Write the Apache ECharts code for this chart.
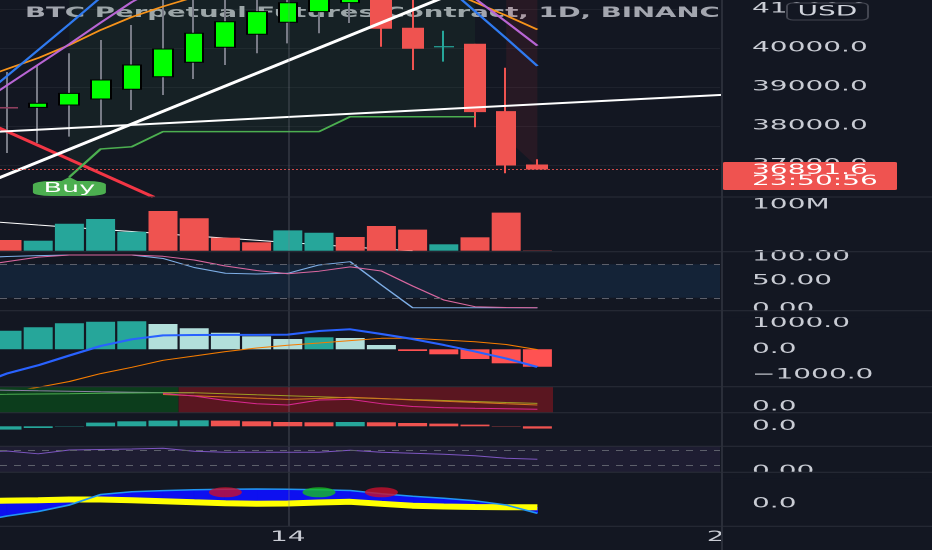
<!DOCTYPE html>
<html>
<head>
<meta charset="utf-8">
<title>BTC Perpetual Futures Contract, 1D, BINANCE</title>
<script src="https://cdn.jsdelivr.net/npm/echarts@6.0.0/dist/echarts.min.js"></script>
<style>
html, body { margin:0; padding:0; background:#131722; overflow:hidden; }
#wrap { width:932px; height:550px; overflow:hidden; background:#131722; }
#chart { width:466px; height:550px; transform:scaleX(2); transform-origin:0 0; }
</style>
</head>
<body>
<div id="wrap"><div id="chart"></div></div>
<script>
// ---------------- data ----------------
const TITLE = 'BTC Perpetual Futures Contract, 1D, BINANCE';
const CURRENCY = 'USD';
const COUNTDOWN = '23:50:56';

const days   = [5, 6, 7, 8, 9, 10, 11, 12, 13, 14, 15, 16, 17, 18, 19, 20, 21, 22];
const opens  = [38470, 38474, 38533, 38687, 38936, 39259, 39628, 40013, 40346, 40654, 40926, 41157, 41550, 40500, 40025, 40090, 38362, 36995];
const closes = [38455, 38577, 38833, 39174, 39559, 39969, 40372, 40669, 40926, 41156, 41450, 41600, 40500, 39987, 40030, 38362, 36995, 36891.6];
const lows   = [37303, 37559, 37721, 38021, 38405, 38790, 39200, 39559, 39859, 40115, 40372, 40636, 40028, 39431, 39644, 37962, 36782, 36891.6];
const highs  = [39379, 39559, 39859, 40200, 40585, 41400, 41500, 41600, 41700, 41800, 41900, 42000, 41900, 41300, 40438, 40100, 39490, 37141];
const priceTicks = [37000, 38000, 39000, 40000, 41000];
const xTickDays = [14, 28];

// indicator days (one extra day before the first visible candle)
const indDays  = [4, 5, 6, 7, 8, 9, 10, 11, 12, 13, 14, 15, 16, 17, 18, 19, 20, 21, 22];
const maBlue   = [38610, 39277, 39944, 40610, 41290, 41900, 42400, 42800, 43100, 43300, 43350, 43300, 43100, 42800, 42300, 41631, 40936, 40244, 39533];
const maPurple = [38508, 39038, 39567, 40097, 40644, 41174, 41600, 41950, 42200, 42400, 42500, 42550, 42550, 42500, 42457, 41867, 41264, 40667, 40054];
const maOrange = [39174, 39456, 39738, 40072, 40456, 40790, 41059, 41300, 41450, 41550, 41650, 41750, 41850, 41900, 41850, 41508, 41169, 40826, 40469];

const stDays    = [7, 8, 9, 10, 11, 12, 13, 14, 15, 16, 17, 18, 19, 20];
const stValues  = [36687, 37405, 37464, 37851, 37851, 37851, 37851, 37851, 37851, 38233, 38233, 38233, 38233, 38233];
const stRedDays = [21, 22];
const buyDay    = 7;

const trendUp   = [[4.5, 36585], [20.0, 41620]];
const trendFlat = [[4.5, 37838], [28.5, 38817]];
const trendDown = [[4.5, 38035], [9.7, 36174]];

const volumeM   = [23.4, 21.9, 59.1, 69.4, 41.6, 86.9, 70.9, 28.4, 18.4, 44.6, 39.4, 30.0, 54.0, 46.0, 14.0, 29.3, 83.2, 0.6];
const volumeDir = ['d','u','u','u','u','d','d','d','d','u','u','d','d','d','u','d','d','d'];
const volMaDays = [4, 5, 6, 7, 8, 9, 10, 11, 12, 13, 14, 15, 16, 17, 18];
const volMa     = [65.9, 61.1, 56.2, 51.4, 46.6, 42.0, 37.2, 32.2, 27.6, 22.8, 17.9, 13.3, 8.3, 3.7, 0];

const stochK = [91.1, 93.8, 95.4, 96.4, 96.4, 96.4, 90.2, 74.1, 63.8, 62.5, 63.8, 78.6, 84.5, 42.9, 2.3, 2.3, 2.3, 2.3, 2.3];
const stochD = [76.3, 84.6, 92.7, 96.4, 96.4, 96.4, 94.1, 87.5, 76.8, 68.8, 62.9, 67.5, 75.2, 67.9, 41.1, 16.1, 4.1, 2.7, 2.3];
const stochBands = [20, 80];

const macdLine   = [-1384, -938, -620, -240, 128, 388, 540, 554, 560, 560, 570, 709, 775, 593, 399, 167, -85, -357, -686];
const macdSignal = [-1800, -1659, -1473, -1248, -942, -697, -427, -260, -89, 50, 155, 244, 337, 426, 430, 361, 291, 186, -12];
const macdHist   = [721, 853, 1008, 1070, 1085, 981, 814, 643, 504, 399, 465, 438, 167, -66, -194, -376, -543, -674];

const trendState  = ['up','up','up','up','up','up','down','down','down','down','down','down','down','down','down','down','down','down'];
const dmiA        = [12.2, 12.4, 12.7, 13.0, 13.4, 13.7, 14.0, 13.9, 12.9, 11.9, 11.0, 10.0, 9.0, 8.1, 7.1, 6.2, 5.2, 4.2, 3.3];
const dmiBDays    = [4, 5, 6, 7, 8, 9, 10, 11];
const dmiB        = [17.0, 16.5, 15.9, 15.4, 14.9, 14.5, 14.1, 13.9];
const dmiLateDays = [10, 11, 12, 13, 14, 15, 16, 17, 18, 19, 20, 21, 22];
const dmiOrange   = [12.2, 11.0, 9.7, 8.4, 7.3, 8.2, 9.4, 8.2, 6.7, 5.4, 4.2, 2.9, 1.7];
const dmiMagenta  = [13.2, 10.7, 6.2, 2.9, 1.7, 6.7, 7.3, 3.0, 0.2, -1.0, -1.6, -2.1, -2.6];

const momentum = [-3.3, -1.7, 0.3, 3.7, 5.0, 5.7, 6.0, 5.7, 5.0, 4.3, 4.0, 4.3, 4.0, 3.3, 2.7, 1.7, 0.3, -2.3];

const rsiLine  = [77.4, 81.3, 70.2, 85.3, 87.3, 89.3, 92.1, 80.2, 76.2, 76.2, 76.2, 76.2, 84.1, 76.6, 72.6, 68.3, 62.3, 52.4, 48.4];
const rsiBands = [26, 85];

const waveFast = [-18, -12, -7.5, -1, 9.5, 12.3, 13.4, 14.3, 14.8, 15, 14.8, 14.3, 13.5, 10.3, 7.8, 5.8, 3.2, -1, -9.3];
const waveSlow = [3, 3.4, 3.8, 4.5, 4.5, 3.7, 2.7, 1.7, 0.8, 0.3, 0.5, 1.5, 2.2, 0.2, -1.7, -2.5, -3, -3.2, -3.3];
const waveLevel = 25;
const waveSignals = [[12, 'sell'], [15, 'buy'], [17, 'sell']];
const waveSignalLevel = 11.7;

// ---------------- layout ----------------
const W = 466, PLOT_W = 360, BAND = 15.6;
const X_MIN = 5 - 3.5 / BAND;
const X_MAX = X_MIN + PLOT_W / BAND;
const X_MAX_LABEL = X_MIN + W / BAND;
const BG = '#131722', SEP = '#2a2e39', TXT = '#c9ccd4', FONT = 'DejaVu Sans';
const UP = '#26a69a', DOWN = '#ef5350';
const panes = [
  {top: 0, h: 197},
  {top: 197, h: 53.7},
  {top: 253, h: 56},
  {top: 310.6, h: 77.4},
  {top: 386.7, h: 26},
  {top: 412.7, h: 33.6},
  {top: 446.3, h: 25.9},
  {top: 472.2, h: 54.1}
];
const sepYs = [197, 251.7, 310.7, 386.7, 412.7, 446.3, 472.2, 526.3];

const pair = (xs, ys) => xs.map((x, i) => [x, ys[i]]);
const lastClose = closes[closes.length - 1];

const grids = panes.map(p => ({left: 0, width: PLOT_W, top: p.top, height: p.h}));
grids[6].show = true; grids[6].backgroundColor = 'rgba(126,87,194,0.10)'; grids[6].borderWidth = 0;
grids.push({left: 0, width: W, top: 0, height: 526.3});

const xAxes = panes.map((p, i) => ({type: 'value', gridIndex: i, min: X_MIN, max: X_MAX, show: false}));
xAxes.push({
  type: 'value', gridIndex: 8, min: X_MIN, max: X_MAX_LABEL, position: 'bottom',
  axisLine: {show: false}, axisTick: {show: false, customValues: xTickDays}, splitLine: {show: false},
  axisLabel: {customValues: xTickDays, color: TXT, fontSize: 14, fontFamily: FONT, margin: 4, formatter: v => String(v)}
});

function yAx(i, min, max, vals, fmt, split, rich) {
  return {
    type: 'value', gridIndex: i, position: 'right', min: min, max: max,
    axisLine: {show: false},
    axisTick: {show: false, customValues: vals},
    splitLine: {show: !!split, lineStyle: {color: '#1e222d', width: 1}},
    axisLabel: {customValues: vals, formatter: fmt, color: TXT, fontSize: 14, fontFamily: FONT, margin: 16, align: 'left', rich: rich}
  };
}
const minusFmt = d => v => (v < 0 ? '\u2212' + Math.abs(v).toFixed(d) : v.toFixed(d));
const yAxes = [
  yAx(0, 36174.4, 41225.6, priceTicks, v => v.toFixed(1), true),
  yAx(1, 0, 117.5, [100], v => v + 'M'),
  yAx(2, 0, 100, [0, 50, 100], v => (v === 100 ? '{top|' + v.toFixed(2) + '}' : v.toFixed(2)), false,
      {top: {color: TXT, fontSize: 14, fontFamily: FONT, padding: [8, 0, 0, 0]}}),
  yAx(3, -1500, 1500, [-1000, 0, 1000], minusFmt(1)),
  yAx(4, -6, 20, [0], v => v.toFixed(1)),
  yAx(5, -20, 13.6, [0], v => v.toFixed(1)),
  yAx(6, -2.8, 100, [0], v => v.toFixed(2)),
  yAx(7, -22.3, 31.8, [0], v => v.toFixed(1)),
  {type: 'value', gridIndex: 8, min: 0, max: 1, show: false}
];

const noLine = {opacity: 0};
const ax = i => ({xAxisIndex: i, yAxisIndex: i});
function line(i, name, data, color, width, z, extra) {
  return Object.assign({type: 'line', name: name, data: data, symbol: 'none', silent: true, z: z,
    lineStyle: {color: color, width: width}}, ax(i), extra || {});
}

// candle styles
const wickStyle = i => i === 14 ? {color: UP, color0: UP, borderColor: UP, borderColor0: UP}
                     : i === 0 ? {color0: '#787b86', borderColor0: '#787b86'} : undefined;
const bodyStyle = i => i === 14 ? {color: UP, color0: UP, borderColor: UP, borderColor0: UP}
                     : i === 0 ? {color0: '#8f3f5e', borderColor0: '#8f3f5e'} : undefined;

const series = [];
// supertrend fills (from the stop line up to the top of the pane)
series.push(line(0, 'stFill', pair(stDays, stValues), 'transparent', 0, 1,
  {lineStyle: noLine, areaStyle: {color: 'rgba(76,175,80,0.10)', origin: 'end'}}));
series.push(line(0, 'rsFill', stRedDays.map(d => { const i = days.indexOf(d); return [d, (opens[i] + closes[i]) / 2]; }), 'transparent', 0, 1,
  {lineStyle: noLine, areaStyle: {color: 'rgba(242,54,69,0.13)', origin: 'end'}}));
// wicks
series.push(Object.assign({
  type: 'candlestick', name: 'wicks', silent: true, z: 2, barWidth: 1,
  encode: {x: 0, y: [1, 2, 3, 4]},
  itemStyle: {color: '#787b86', color0: DOWN, borderColor: '#787b86', borderColor0: DOWN, borderWidth: 1},
  data: days.map((d, i) => ({value: [d, opens[i], closes[i], lows[i], highs[i]], itemStyle: wickStyle(i)}))
}, ax(0)));
// bodies
series.push(Object.assign({
  type: 'candlestick', name: 'bodies', silent: true, z: 2, barWidth: 10,
  encode: {x: 0, y: [1, 2, 3, 4]},
  itemStyle: {color: '#00ff00', color0: DOWN, borderColor: '#000000', borderColor0: DOWN, borderWidth: 1},
  data: days.map((d, i) => ({value: [d, opens[i], closes[i], Math.min(opens[i], closes[i]), Math.max(opens[i], closes[i])], itemStyle: bodyStyle(i)})),
  markLine: {silent: true, symbol: ['none', 'none'], label: {show: false},
    lineStyle: {color: DOWN, type: 'dotted', width: 1, opacity: 0.85}, data: [{yAxis: lastClose}]}
}, ax(0)));
// moving averages
series.push(line(0, 'maOrange', pair(indDays, maOrange), '#f7931a', 1.5, 3));
series.push(line(0, 'maPurple', pair(indDays, maPurple), '#b865d4', 1.5, 3));
series.push(line(0, 'maBlue', pair(indDays, maBlue), '#2f7af0', 1.5, 3));
// trend lines
series.push(line(0, 'trendDown', trendDown, '#f23645', 2.5, 3));
series.push(line(0, 'trendFlat', trendFlat, '#ffffff', 2, 3));
series.push(line(0, 'trendUp', trendUp, '#ffffff', 2.5, 3));
// supertrend line + Buy label
series.push(line(0, 'supertrend', pair(stDays, stValues), '#4caf50', 1.5, 4, {
  markPoint: {silent: true, data: [
    {coord: [buyDay, stValues[stDays.indexOf(buyDay)]], symbol: 'triangle', symbolSize: [10, 5], symbolOffset: [0, 2.5],
      itemStyle: {color: '#4caf50'}, label: {show: false}},
    {coord: [buyDay, stValues[stDays.indexOf(buyDay)]], symbol: 'roundRect', symbolSize: [36.5, 15], symbolOffset: [0, 11.5],
      itemStyle: {color: '#4caf50'}, label: {show: true, position: 'inside', formatter: 'Buy', color: '#ffffff', fontSize: 13.5, fontFamily: FONT}}
  ]}
}));

// volume
series.push(line(1, 'volMa', pair(volMaDays, volMa), '#ffffff', 1, 2));
series.push(Object.assign({type: 'bar', name: 'volume', silent: true, z: 3, barWidth: 14.5,
  data: days.map((d, i) => ({value: [d, volumeM[i]], itemStyle: {color: volumeDir[i] === 'u' ? UP : DOWN}}))}, ax(1)));

// stochastic RSI
series.push(line(2, 'stochK', pair(indDays, stochK), '#7eaee6', 1, 3, {
  markArea: {silent: true, itemStyle: {color: 'rgba(33,150,243,0.10)'}, data: [[{yAxis: stochBands[0]}, {yAxis: stochBands[1]}]]},
  markLine: {silent: true, symbol: ['none', 'none'], label: {show: false},
    lineStyle: {color: '#5d606b', type: [3.5, 3.5], width: 1}, data: stochBands.map(v => ({yAxis: v}))}
}));
series.push(line(2, 'stochD', pair(indDays, stochD), '#d9679f', 1, 3));

// MACD
const histColor = (arr, i, posUp, posDown, negDown, negUp) => {
  const v = arr[i], rising = i === 0 || v >= arr[i - 1];
  return v >= 0 ? (rising ? posUp : posDown) : (rising ? negUp : negDown);
};
series.push(Object.assign({type: 'bar', name: 'macdHist', silent: true, z: 2, barWidth: 14.5,
  data: days.map((d, i) => ({value: [d, macdHist[i]], itemStyle: {color: histColor(macdHist, i, UP, '#b2dfdb', '#ff5252', '#ffcdd2')}}))}, ax(3)));
series.push(line(3, 'macdSignal', pair(indDays, macdSignal), '#f57c00', 1, 3));
series.push(line(3, 'macd', pair(indDays, macdLine), '#2962ff', 2, 4));

// trend state pane
const runs = [];
let start = 0;
for (let i = 1; i <= trendState.length; i++) {
  if (i === trendState.length || trendState[i] !== trendState[start]) { runs.push([start, i - 1, trendState[start]]); start = i; }
}
series.push(line(4, 'stateBg', [[X_MIN, 0]], 'transparent', 0, 1, {lineStyle: noLine,
  markArea: {silent: true, data: runs.map(([a, b, s]) => [
    {xAxis: Math.max(days[a] - 0.5, X_MIN), itemStyle: {color: s === 'up' ? '#0c3d1c' : '#5a1620'}},
    {xAxis: days[b] + 0.5}])}}));
series.push(line(4, 'dmiB', pair(dmiBDays, dmiB), '#8d7fa6', 1, 3));
series.push(line(4, 'dmiAup', pair(indDays.slice(0, 7), dmiA.slice(0, 7)), '#4caf50', 1, 3));
series.push(line(4, 'dmiAdown', pair(indDays.slice(6), dmiA.slice(6)), '#9e9d24', 1, 3));
series.push(line(4, 'dmiOrange', pair(dmiLateDays, dmiOrange), '#d2761f', 1, 3));
series.push(line(4, 'dmiMagenta', pair(dmiLateDays, dmiMagenta), '#d8288f', 1, 3));

// momentum
series.push(Object.assign({type: 'bar', name: 'momentum', silent: true, z: 2, barWidth: 14.5,
  data: days.map((d, i) => ({value: [d, momentum[i]], itemStyle: {color: histColor(momentum, i, UP, DOWN, DOWN, UP)}}))}, ax(5)));

// RSI
series.push(line(6, 'rsi', pair(indDays, rsiLine), '#7e57c2', 1, 3, {
  markLine: {silent: true, symbol: ['none', 'none'], label: {show: false},
    lineStyle: {color: '#5d606b', type: [3.5, 3.5], width: 1}, data: rsiBands.map(v => ({yAxis: v}))}
}));

// wave pane: fill between fast and slow lines, segment by segment
const WAVE_FILL = '#0d10f0';
series.push(Object.assign({
  type: 'custom', name: 'waveFill', silent: true, z: 2,
  encode: {x: 0, y: 1},
  data: indDays.slice(0, -1).map((d, i) => [d, waveFast[i], waveSlow[i], indDays[i + 1], waveFast[i + 1], waveSlow[i + 1]]),
  renderItem: (params, api) => {
    const p1 = api.coord([api.value(0), api.value(1)]);
    const p2 = api.coord([api.value(3), api.value(4)]);
    const p3 = api.coord([api.value(3), api.value(5)]);
    const p4 = api.coord([api.value(0), api.value(2)]);
    return {type: 'polygon', shape: {points: [p1, p2, p3, p4]}, style: {fill: WAVE_FILL, stroke: WAVE_FILL, lineWidth: 0.6}};
  }
}, ax(7)));
series.push(line(7, 'waveSlow', pair(indDays, waveSlow), '#ffff00', 6, 3, {
  markLine: {silent: true, symbol: ['none', 'none'], label: {show: false},
    lineStyle: {color: '#8e1a24', type: 'solid', width: 2},
    data: [[{coord: [indDays[0], waveLevel]}, {coord: [days[days.length - 1], waveLevel]}]]}
}));
series.push(line(7, 'waveFast', pair(indDays, waveFast), '#2196f3', 1.5, 4));
series.push(Object.assign({type: 'scatter', name: 'waveSignals', silent: true, z: 5, symbol: 'circle', symbolSize: [16.5, 10],
  data: waveSignals.map(([d, t]) => ({value: [d, waveSignalLevel], itemStyle: {color: t === 'buy' ? '#16bd24' : '#c8102e'}}))}, ax(7)));

// vertical grid line at the labelled day
series.push(line(8, 'vgrid', [[xTickDays[0], 0.5]], 'transparent', 0, 1.5, {lineStyle: noLine,
  markLine: {silent: true, symbol: ['none', 'none'], label: {show: false},
    lineStyle: {color: 'rgba(120,123,134,0.25)', type: 'solid', width: 1}, data: [{xAxis: xTickDays[0]}]}}));

const chart = echarts.init(document.getElementById('chart'), null, {renderer: 'canvas', devicePixelRatio: 2});
chart.setOption({
  backgroundColor: BG,
  animation: false,
  textStyle: {fontFamily: FONT},
  title: {text: TITLE, left: 12.5, top: 6.5, padding: 0, z: 0,
    textStyle: {color: '#a3a6af', fontSize: 13.8, fontWeight: 'bold', fontFamily: FONT, width: 349, overflow: 'truncate', ellipsis: ''}},
  grid: grids,
  xAxis: xAxes,
  yAxis: yAxes,
  series: series
});

const py = chart.convertToPixel({xAxisIndex: 0, yAxisIndex: 0}, [days[days.length - 1], lastClose])[1];
const els = [];
sepYs.forEach(y => els.push({type: 'line', z: 6, silent: true, shape: {x1: 0, y1: y, x2: W, y2: y}, style: {stroke: SEP, lineWidth: 1}}));
els.push({type: 'line', z: 6, silent: true, shape: {x1: 361, y1: 0, x2: 361, y2: 550}, style: {stroke: SEP, lineWidth: 1}});
[[310.7, 6.5], [472.2, 6], [526.8, 24]].forEach(([y, h]) =>
  els.push({type: 'rect', z: 5, silent: true, shape: {x: 361.5, y: y, width: W - 361.5, height: h}, style: {fill: BG}}));
els.push({type: 'rect', z: 8, silent: true, shape: {x: 393.5, y: 3, width: 40.5, height: 17, r: 3}, style: {fill: BG, stroke: '#434651', lineWidth: 1}});
els.push({type: 'text', z: 9, silent: true, style: {text: CURRENCY, x: 413.75, y: 12, fill: '#d1d4dc', fontSize: 14, fontFamily: FONT, align: 'center', verticalAlign: 'middle'}});
els.push({type: 'rect', z: 8, silent: true, shape: {x: 361.5, y: py - 7, width: 87, height: 28, r: 1}, style: {fill: DOWN}});
els.push({type: 'text', z: 9, silent: true, style: {text: lastClose.toFixed(1), x: 376, y: py + 1.5, fill: '#ffffff', fontSize: 14, fontFamily: FONT, align: 'left', verticalAlign: 'middle'}});
els.push({type: 'text', z: 9, silent: true, style: {text: COUNTDOWN, x: 376, y: py + 12.5, fill: '#ffffff', fontSize: 14, fontFamily: FONT, align: 'left', verticalAlign: 'middle'}});
chart.setOption({graphic: {elements: els}});
</script>
</body>
</html>
